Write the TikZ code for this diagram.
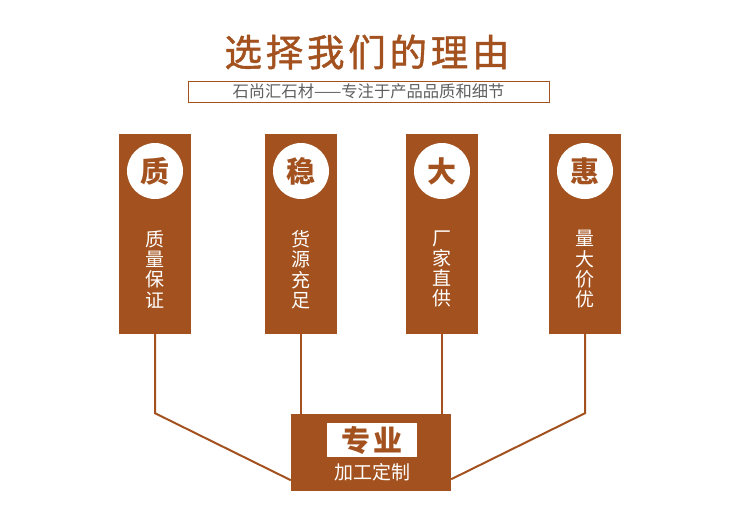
\documentclass[tikz,border=0pt]{standalone}
\usepackage{fontspec}
\setmainfont{Noto Sans CJK SC}
\usetikzlibrary{positioning}
\definecolor{rust}{RGB}{163,82,31}
\definecolor{slate}{RGB}{95,95,95}

\begin{document}
\begin{tikzpicture}[
  x=1pt,y=-1pt,
  pillar/.style={
    fill=rust,
    minimum width=72pt,
    minimum height=200pt,
    inner sep=0pt
  },
  badge/.style={
    circle,
    fill=white,
    minimum size=56pt,
    inner sep=0pt,
    text=rust,
    font=\fontsize{29}{29}\selectfont\bfseries
  },
  motto/.style={
    text=white,
    align=center,
    inner sep=0pt,
    font=\fontsize{19}{20.3}\selectfont
  },
  link/.style={rust,line width=2pt}
]
  \useasboundingbox (0,0) rectangle (750,530);

  \node[text=rust,font=\fontsize{37.5}{37.5}\selectfont\addfontfeature{LetterSpace=10,FakeBold=1.2}] (title) at (367,52) {选择我们的理由};
  \node[draw=rust,line width=1pt,minimum width=361pt,minimum height=21pt,inner sep=0pt,
    text=slate,font=\fontsize{16.3}{16.3}\selectfont] (subtitle) at (368.5,91.5) {石尚汇石材——专注于产品品质和细节};

  \node[pillar] (col1) at (155,234) {};
  \node[badge,below=9pt of col1.north] (circ1) {质};
  \node[motto,below=31pt of circ1] (text1) {质\\量\\保\\证};

  \node[pillar] (col2) at (301,234) {};
  \node[badge,below=9pt of col2.north] (circ2) {稳};
  \node[motto,below=31pt of circ2] (text2) {货\\源\\充\\足};

  \node[pillar] (col3) at (442,234) {};
  \node[badge,below=9pt of col3.north] (circ3) {大};
  \node[motto,below=31pt of circ3] (text3) {厂\\家\\直\\供};

  \node[pillar] (col4) at (585,234) {};
  \node[badge,below=9pt of col4.north] (circ4) {惠};
  \node[motto,below=31pt of circ4] (text4) {量\\大\\价\\优};

  \node[fill=rust,minimum width=160pt,minimum height=77pt,inner sep=0pt] (spec) at (371,452.5) {};
  \node[fill=white,minimum width=90pt,minimum height=34pt,inner sep=0pt,text=rust,
    font=\fontsize{29}{29}\selectfont\bfseries] (specTag) at (372,440) {专\hspace{4pt}业};
  \node[text=white,inner sep=0pt,font=\fontsize{19}{19}\selectfont] (specText) at (372,472) {加工定制};

  \draw[link] (col1.south) -- ++(0,79) -- ([yshift=11pt]spec.south west);
  \draw[link] (col4.south) -- ++(0,79) -- ([yshift=12pt]spec.south east);
  \draw[link] (col2.south) -- (col2.south |- spec.north);
  \draw[link] (col3.south) -- (col3.south |- spec.north);
\end{tikzpicture}
\end{document}
